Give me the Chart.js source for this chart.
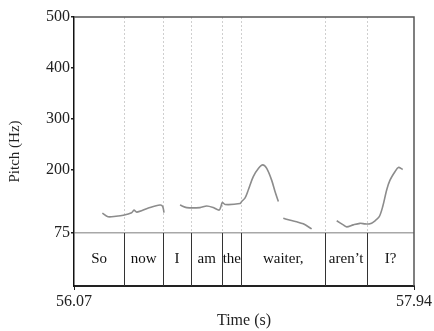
<!DOCTYPE html>
<html lang="en">
<head>
    <meta charset="UTF-8">
    <title>Pitch</title>
    <script src="https://cdn.jsdelivr.net/npm/chart.js"></script>
    <style>
        html,body{margin:0;padding:0;background:#fff}
        #wrap{width:434px;height:331px}
    </style>
</head>
<body>
    <div id="wrap"><canvas id="pitchChart"></canvas></div>
<script>
    // word boundaries (s) and words of the text tier
    const xTicks=[56.07,57.94]
    const boundaries=[56.347,56.56,56.713,56.886,56.99,57.452,57.682]
    const words=["So","now","I","am","the","waiter,","aren’t","I?"]
    const yTicks=[75,200,300,400,500]

    // pitch contour, one pair of arrays per voiced stretch
    const seg1Times=[56.226,56.257,56.301,56.341,56.387,56.400,56.415,56.479,56.543,56.558,56.565]
    const seg1Hz=[114,107,108,110,115,120,116,124,130,127,115]
    const seg2Times=[56.653,56.690,56.763,56.800,56.836,56.868,56.877,56.886,56.901,56.983,56.992,57.011,57.029,57.056,57.084,57.108,57.130,57.157,57.176,57.194]
    const seg2Hz=[130,125,125,128,125,120,126,135,131,133,137,144,160,186,202,209,202,179,156,137]
    const seg3Times=[57.221,57.260,57.295,57.331,57.377]
    const seg3Hz=[104,100,97,93,83]
    const seg4Times=[57.515,57.551,57.570,57.606,57.643,57.671,57.698,57.726,57.749,57.768,57.790,57.808,57.836,57.854,57.878]
    const seg4Hz=[99,91,87,91,94,93,93,99,107,127,160,179,196,204,200]

    const segs=[[seg1Times,seg1Hz],[seg2Times,seg2Hz],[seg3Times,seg3Hz],[seg4Times,seg4Hz]]
    const font="'Liberation Serif', 'Times New Roman', serif"

    const tierPlugin={
        id:"tier",
        beforeDatasetsDraw(chart){
            const {ctx,chartArea:a,scales:{x,y}}=chart
            const y75=y.getPixelForValue(75)
            ctx.save()
            ctx.lineWidth=1
            boundaries.forEach(b=>{
                const px=Math.round(x.getPixelForValue(b))+0.5
                ctx.strokeStyle="#cfcfcf"
                ctx.setLineDash([2,2])
                ctx.beginPath();ctx.moveTo(px,a.top);ctx.lineTo(px,y75);ctx.stroke()
                ctx.setLineDash([])
                ctx.strokeStyle="#333"
                ctx.beginPath();ctx.moveTo(px,y75);ctx.lineTo(px,a.bottom);ctx.stroke()
            })
            // frame top and right
            ctx.strokeStyle="#555"
            ctx.lineWidth=1.5
            ctx.beginPath()
            ctx.moveTo(a.left,a.top);ctx.lineTo(a.right,a.top);ctx.lineTo(a.right,a.bottom)
            ctx.stroke()
            // words
            const edges=[xTicks[0],...boundaries,xTicks[1]]
            ctx.fillStyle="#111"
            ctx.font="15px "+font
            ctx.textAlign="center"
            ctx.textBaseline="middle"
            words.forEach((w,i)=>{
                const mid=(edges[i]+edges[i+1])/2
                ctx.fillText(w,x.getPixelForValue(mid),(y75+a.bottom)/2)
            })
            ctx.restore()
        }
    }

    const ctx=document.getElementById("pitchChart").getContext("2d")
    new Chart(ctx,{
        type:"line",
        data:{
            datasets:segs.map(s=>({
                data:s[0].map((t,i)=>({x:t,y:s[1][i]})),
                borderColor:"#8c8c8c",
                borderWidth:1.6,
                pointRadius:0,
                tension:0.3,
                fill:false
            }))
        },
        options:{
            responsive:true,
            maintainAspectRatio:false,
            animation:false,
            layout:{padding:{top:17,right:20,left:2,bottom:0}},
            plugins:{legend:{display:false},tooltip:{enabled:false}},
            scales:{
                x:{
                    type:"linear",
                    min:xTicks[0],
                    max:xTicks[1],
                    afterBuildTicks:s=>{s.ticks=xTicks.map(v=>({value:v}))},
                    afterFit:s=>{s.height=45},
                    grid:{drawOnChartArea:false,tickLength:4,tickColor:"#222"},
                    border:{color:"#222",width:2},
                    ticks:{
                        padding:2,
                        maxRotation:0,
                        color:"#222",
                        font:{family:font,size:16},
                        callback:v=>v.toFixed(2)
                    },
                    title:{display:true,text:"Time (s)",color:"#222",font:{family:font,size:16},padding:{top:0,bottom:1}}
                },
                y:{
                    min:-29.3,
                    max:500,
                    afterBuildTicks:s=>{s.ticks=yTicks.map(v=>({value:v}))},
                    afterFit:s=>{s.width=72},
                    grid:{
                        color:c=>c.tick&&c.tick.value===75?"#a8a8a8":"rgba(0,0,0,0)",
                        lineWidth:1.5,
                        tickLength:3,
                        tickColor:"#222"
                    },
                    border:{color:"#111",width:1.5},
                    ticks:{
                        padding:1,
                        color:"#222",
                        font:{family:font,size:16}
                    },
                    title:{display:true,text:"Pitch (Hz)",color:"#222",font:{family:font,size:15}}
                }
            }
        },
        plugins:[tierPlugin]
    })
</script>
</body>
</html>
